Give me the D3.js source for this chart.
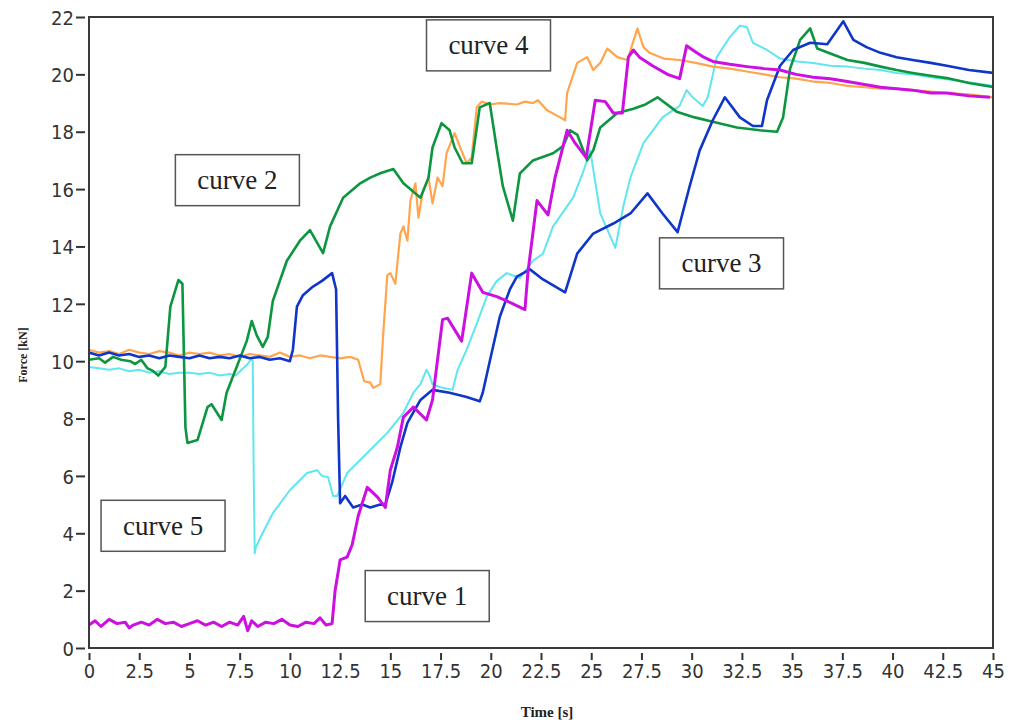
<!DOCTYPE html>
<html>
<head>
<meta charset="utf-8">
<script src="https://cdn.jsdelivr.net/npm/d3@7"></script>
<style>
  body { margin: 0; background: #fff; }
  #chart { width: 1014px; height: 722px; }
  .tick text { font-family: "Liberation Sans Narrow", "DejaVu Sans Condensed", sans-serif; font-size: 20px; fill: #333; }
  .tick line { stroke: #333; stroke-width: 2; }
  .domain { display: none; }
</style>
</head>
<body>
<div id="chart"></div>
<script>
// values: [time s, force kN]
var curve1 = [[0,0.8],[0.3,0.95],[0.6,0.75],[1.0,1.0],[1.4,0.85],[1.8,0.9],[2.0,0.7],[2.2,0.8],[2.6,0.9],[3.0,0.8],[3.4,1.0],[3.8,0.85],
  [4.2,0.9],[4.6,0.75],[5.0,0.85],[5.4,0.95],[5.8,0.8],[6.2,0.9],[6.6,0.75],[7.0,0.9],[7.4,0.8],[7.7,1.1],[7.9,0.6],[8.1,0.95],
  [8.4,0.75],[8.8,0.9],[9.2,0.85],[9.6,1.0],[10.0,0.8],[10.4,0.75],[10.8,0.9],[11.2,0.85],[11.5,1.05],[11.8,0.8],[12.1,0.85],
  [12.25,2.0],[12.5,3.07],[12.85,3.17],[13.1,3.6],[13.4,4.6],[13.85,5.6],[14.35,5.27],[14.75,4.9],[15.0,6.2],[15.35,7.0],
  [15.65,8.05],[16.15,8.4],[16.8,7.95],[17.1,8.65],[17.6,11.45],[17.85,11.5],[18.55,10.7],[19.05,13.07],[19.6,12.4],[20.3,12.25],
  [20.95,12.05],[21.7,11.8],[21.85,13.1],[22.3,15.6],[22.85,15.1],[23.2,16.4],[23.8,18.05],[24.2,17.6],[24.75,17.1],[25.0,18.2],
  [25.2,19.1],[25.7,19.05],[26.1,18.65],[26.55,18.65],[26.85,20.6],[27.1,20.85],[27.4,20.6],[28.05,20.3],[28.8,20.0],[29.4,19.85],
  [29.75,21.0],[30.05,20.85],[30.6,20.6],[31.05,20.45],[31.9,20.35],[32.75,20.27],[33.6,20.2],[34.4,20.15],[35.2,20.0],[36.05,19.9],
  [36.9,19.85],[37.75,19.75],[38.6,19.65],[39.4,19.55],[40.2,19.5],[41.0,19.45],[41.9,19.35],[42.7,19.35],[43.8,19.25],[44.85,19.2]];

var curve2 = [[0,10.05],[0.5,10.1],[0.8,9.95],[1.2,10.15],[1.6,10.05],[2.05,10.0],[2.3,9.9],[2.6,10.05],[2.9,9.76],[3.2,9.65],
  [3.45,9.5],[3.8,9.8],[4.05,11.9],[4.45,12.83],[4.65,12.7],[4.8,7.7],[4.9,7.15],[5.4,7.25],[5.9,8.4],[6.1,8.5],[6.6,7.95],
  [6.85,8.9],[7.35,9.8],[7.85,10.7],[8.1,11.4],[8.35,10.9],[8.65,10.5],[8.9,10.85],[9.15,12.1],[9.85,13.5],[10.5,14.2],[11.0,14.57],
  [11.65,13.77],[12.0,14.7],[12.65,15.7],[13.5,16.2],[14.0,16.4],[14.5,16.55],[15.15,16.7],[15.65,16.2],[16.5,15.7],[16.9,16.4],
  [17.1,17.45],[17.55,18.3],[17.95,18.05],[18.2,17.45],[18.6,16.9],[19.05,16.9],[19.45,18.85],[19.95,19.0],[20.3,17.4],[20.6,16.1],
  [21.1,14.9],[21.45,16.55],[22.1,17.0],[23.1,17.25],[23.6,17.5],[23.95,18.05],[24.3,17.9],[24.8,17.0],[25.1,17.35],[25.45,18.15],
  [26.3,18.65],[27.1,18.8],[27.7,18.95],[28.3,19.2],[29.25,18.7],[30.15,18.5],[31.05,18.35],[32.25,18.15],[33.4,18.05],[34.25,18.0],
  [34.55,18.5],[34.9,20.2],[35.4,21.2],[35.9,21.6],[36.25,20.9],[37.0,20.7],[37.75,20.5],[38.6,20.4],[39.4,20.27],[40.2,20.15],
  [41.0,20.05],[41.9,19.95],[42.7,19.87],[43.8,19.7],[45,19.56]];

var curve3 = [[0,10.3],[0.5,10.2],[1.0,10.3],[1.5,10.2],[2.0,10.25],[2.5,10.15],[3.0,10.2],[3.5,10.1],[4.0,10.2],[4.5,10.15],[5.0,10.1],
  [5.5,10.2],[6.0,10.1],[6.5,10.15],[7.0,10.1],[7.5,10.2],[8.0,10.1],[8.5,10.15],[9.0,10.05],[9.5,10.1],[10.0,10.0],[10.15,10.4],
  [10.35,11.9],[10.65,12.3],[11.15,12.6],[11.6,12.8],[12.1,13.07],[12.3,12.5],[12.4,8.0],[12.5,5.05],[12.75,5.3],[13.15,4.9],[13.6,5.0],
  [14.0,4.9],[14.5,5.0],[14.75,5.0],[15.1,5.8],[15.5,7.0],[15.85,7.85],[16.5,8.65],[17.1,9.0],[17.95,8.9],[18.8,8.75],[19.45,8.6],
  [19.6,8.9],[19.95,10.0],[20.45,11.55],[20.95,12.5],[21.3,12.95],[21.95,13.2],[22.6,12.85],[23.7,12.4],[24.3,13.75],[25.1,14.45],
  [26.1,14.8],[26.95,15.15],[27.8,15.85],[28.55,15.15],[29.3,14.5],[29.9,16.1],[30.4,17.35],[31.05,18.4],[31.65,19.2],[32.4,18.5],
  [33.05,18.2],[33.5,18.2],[33.75,19.1],[34.4,20.3],[35.05,20.85],[35.9,21.1],[36.75,21.05],[37.55,21.85],[38.05,21.2],[38.7,20.95],
  [39.4,20.75],[40.2,20.6],[41.0,20.5],[41.9,20.4],[42.7,20.3],[43.8,20.15],[45,20.05]];

var curve4 = [[0,10.4],[0.5,10.3],[1,10.35],[1.5,10.25],[2,10.4],[2.5,10.3],[3,10.25],[3.5,10.35],[4,10.3],[4.5,10.2],[5,10.3],
  [5.5,10.25],[6,10.3],[6.5,10.2],[7,10.25],[7.5,10.15],[8,10.25],[8.5,10.2],[9,10.15],[9.5,10.3],[10,10.15],[10.5,10.2],[11,10.1],
  [11.5,10.2],[12,10.15],[12.5,10.1],[13,10.15],[13.4,10.05],[13.7,9.3],[14.0,9.25],[14.15,9.07],[14.5,9.2],[14.65,11.0],[14.85,13.0],
  [15.0,13.07],[15.25,12.7],[15.5,14.45],[15.65,14.7],[15.85,14.2],[16.0,15.6],[16.25,16.2],[16.4,15.0],[16.6,15.85],[16.9,16.4],
  [17.1,15.5],[17.35,16.4],[17.6,16.1],[17.8,17.25],[18.2,17.95],[18.45,17.5],[18.8,16.9],[19.05,17.1],[19.3,18.85],[19.55,19.05],
  [19.95,18.95],[20.45,19.0],[21.3,18.95],[21.7,19.05],[22.1,19.0],[22.35,19.1],[22.8,18.75],[23.45,18.5],[23.7,18.4],[23.8,19.35],
  [24.3,20.4],[24.8,20.6],[25.1,20.15],[25.45,20.4],[25.8,20.9],[26.3,20.6],[26.8,20.5],[27.3,21.6],[27.6,20.95],[27.9,20.75],
  [28.6,20.55],[29.4,20.5],[30.2,20.4],[31.05,20.27],[31.9,20.2],[32.75,20.1],[33.6,20.0],[34.4,19.9],[35.2,19.85],[36.05,19.75],
  [36.9,19.7],[37.75,19.6],[38.6,19.55],[39.4,19.5],[40.2,19.5],[41,19.45],[41.9,19.4],[42.7,19.35],[43.8,19.3],[45,19.2]];

var curve5 = [[0,9.8],[0.5,9.75],[1,9.7],[1.5,9.75],[2,9.65],[2.5,9.7],[3,9.6],[3.5,9.65],[4,9.55],[4.5,9.6],[5,9.6],[5.5,9.55],
  [6,9.6],[6.5,9.5],[7,9.55],[7.3,9.5],[7.6,9.7],[7.9,9.9],[8.1,10.1],[8.15,10.0],[8.2,6.0],[8.25,3.3],[8.3,3.5],[8.55,3.88],
  [9.15,4.7],[10.0,5.5],[10.85,6.1],[11.35,6.2],[11.6,6.0],[11.9,5.96],[12.15,5.3],[12.35,5.3],[12.85,6.1],[13.85,6.8],[14.85,7.5],
  [15.65,8.2],[16.15,8.9],[16.5,9.2],[16.8,9.7],[16.95,9.5],[17.1,9.2],[17.45,9.1],[18.1,9.0],[18.35,9.7],[18.8,10.4],[19.3,11.3],
  [19.8,12.25],[20.3,12.8],[20.8,13.07],[21.45,12.9],[22.1,13.5],[22.6,13.75],[23.1,14.7],[24.1,15.7],[24.6,16.6],[24.95,17.35],
  [25.45,15.15],[26.2,13.95],[26.6,15.4],[26.95,16.4],[27.6,17.6],[28.55,18.5],[29.4,18.9],[29.75,19.45],[30.05,19.2],[30.55,18.9],
  [30.8,19.2],[31.25,20.6],[31.9,21.3],[32.4,21.7],[32.75,21.65],[33.05,21.1],[33.75,20.85],[34.4,20.55],[35.25,20.45],[36.05,20.4],
  [36.9,20.3],[37.75,20.27],[38.6,20.2],[39.4,20.15],[40.2,20.05],[41,20.0],[41.9,19.9],[43,19.8],[45,19.6]];

var series = [
  { name: "curve 5", data: curve5, color: "#5fe6f0", width: 2 },
  { name: "curve 4", data: curve4, color: "#ffa54d", width: 2.2 },
  { name: "curve 2", data: curve2, color: "#0c9640", width: 2.6 },
  { name: "curve 3", data: curve3, color: "#0f36c8", width: 2.6 },
  { name: "curve 1", data: curve1, color: "#cc10e0", width: 3 }
];

var xTicks = d3.range(0, 45.01, 2.5);
var yTicks = d3.range(0, 22.01, 2);

// label boxes: [text, time at left, force at top]
var boxLabels = [
  ["curve 2", 4.3, 17.2],
  ["curve 4", 16.8, 21.9],
  ["curve 3", 28.4, 14.3],
  ["curve 5", 0.6, 5.15],
  ["curve 1", 13.75, 2.7]
];

var W = 1014, H = 722;
var m = { left: 89, top: 17, right: 21, bottom: 74 };
var pw = W - m.left - m.right, ph = H - m.top - m.bottom;

var svg = d3.select("#chart").append("svg").attr("width", W).attr("height", H);
var g = svg.append("g").attr("transform", "translate(" + m.left + "," + m.top + ")");

var x = d3.scaleLinear().domain([0, 45]).range([0, pw]);
var y = d3.scaleLinear().domain([0, 22]).range([ph, 0]);

// axes
var xAxis = g.append("g").attr("transform", "translate(0," + ph + ")")
  .call(d3.axisBottom(x).tickValues(xTicks).tickSize(12).tickPadding(4).tickFormat(function(d) { return String(d); }));
xAxis.selectAll(".tick line").attr("y1", 5);

var yAxis = g.append("g")
  .call(d3.axisLeft(y).tickValues(yTicks).tickSize(13).tickPadding(2));
yAxis.selectAll(".tick line").attr("x1", -4);
yAxis.selectAll(".tick text").attr("dy", "0.36em");

// curves, clipped to plot area
svg.append("defs").append("clipPath").attr("id", "clip")
  .append("rect").attr("width", pw).attr("height", ph);

var line = d3.line()
  .x(function(d) { return x(d[0]); })
  .y(function(d) { return y(d[1]); });

g.append("g").attr("clip-path", "url(#clip)")
  .selectAll("path").data(series).enter().append("path")
  .attr("d", function(d) { return line(d.data); })
  .attr("fill", "none")
  .attr("stroke", function(d) { return d.color; })
  .attr("stroke-width", function(d) { return d.width; })
  .attr("stroke-linejoin", "round");

// frame
g.append("rect").attr("width", pw).attr("height", ph)
  .attr("fill", "none").attr("stroke", "#3a3a3a").attr("stroke-width", 2);

// label boxes
var bw = 124, bh = 51;
var boxes = g.selectAll(".lab").data(boxLabels).enter().append("g")
  .attr("class", "lab")
  .attr("transform", function(d) { return "translate(" + x(d[1]) + "," + y(d[2]) + ")"; });
boxes.append("rect").attr("width", bw).attr("height", bh)
  .attr("fill", "#fff").attr("stroke", "#555").attr("stroke-width", 1.5);
boxes.append("text").attr("x", bw / 2).attr("y", bh / 2 + 9)
  .attr("text-anchor", "middle")
  .style("font-family", "'Liberation Serif', 'Times New Roman', serif")
  .style("font-size", "27px").style("fill", "#222")
  .text(function(d) { return d[0]; });

// axis titles
svg.append("text").attr("x", 547).attr("y", 717).attr("text-anchor", "middle")
  .style("font-family", "'Liberation Serif', serif").style("font-weight", "bold")
  .style("font-size", "15px").style("fill", "#222").text("Time [s]");

svg.append("text").attr("transform", "translate(27,355) rotate(-90)").attr("text-anchor", "middle")
  .style("font-family", "'Liberation Serif', serif").style("font-weight", "bold")
  .style("font-size", "12px").style("fill", "#222").text("Force [kN]");
</script>
</body>
</html>
